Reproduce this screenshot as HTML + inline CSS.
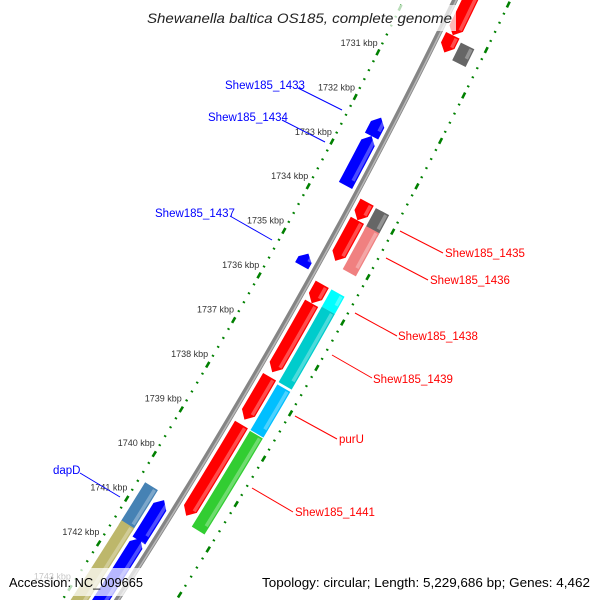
<!DOCTYPE html>
<html><head><meta charset="utf-8">
<style>
html,body{margin:0;padding:0;background:#fff;width:600px;height:600px;overflow:hidden;}
svg{display:block;overflow:hidden;}
text{font-family:"Liberation Sans","DejaVu Sans",sans-serif;}
</style></head>
<body>
<svg id="map" width="600" height="600" viewBox="0 0 600 600" xmlns="http://www.w3.org/2000/svg">
<g id="rings"></g>
<g id="backbone"></g>
<g id="features"></g>
<g id="ticklabels"></g>
<g font-size="11.5">
  <line x1="298" y1="88" x2="342" y2="110" stroke="#0000ff" stroke-width="1"/>
  <text x="225" y="89" fill="#0000ff">Shew185_1433</text>
  <line x1="282" y1="120" x2="325" y2="142" stroke="#0000ff" stroke-width="1"/>
  <text x="208" y="121" fill="#0000ff">Shew185_1434</text>
  <line x1="230" y1="216" x2="272" y2="240" stroke="#0000ff" stroke-width="1"/>
  <text x="155" y="217" fill="#0000ff">Shew185_1437</text>
  <line x1="80" y1="473" x2="120" y2="497" stroke="#0000ff" stroke-width="1"/>
  <text x="53" y="474" fill="#0000ff">dapD</text>
  <line x1="400" y1="231" x2="443" y2="253" stroke="#ff0000" stroke-width="1"/>
  <text x="445" y="257" fill="#ff0000">Shew185_1435</text>
  <line x1="386" y1="258" x2="428" y2="280" stroke="#ff0000" stroke-width="1"/>
  <text x="430" y="284" fill="#ff0000">Shew185_1436</text>
  <line x1="355" y1="313" x2="397" y2="336" stroke="#ff0000" stroke-width="1"/>
  <text x="398" y="340" fill="#ff0000">Shew185_1438</text>
  <line x1="332" y1="355" x2="372" y2="378" stroke="#ff0000" stroke-width="1"/>
  <text x="373" y="383" fill="#ff0000">Shew185_1439</text>
  <line x1="295" y1="416" x2="337" y2="439" stroke="#ff0000" stroke-width="1"/>
  <text x="339" y="443" fill="#ff0000">purU</text>
  <line x1="252" y1="488" x2="293" y2="512" stroke="#ff0000" stroke-width="1"/>
  <text x="295" y="516" fill="#ff0000">Shew185_1441</text>
</g>
<rect x="140" y="5" width="316" height="26" fill="#ffffff" fill-opacity="0.72"/>
<text x="147" y="23" font-size="14" font-style="italic" fill="#222" textLength="305" lengthAdjust="spacingAndGlyphs">Shewanella baltica OS185, complete genome</text>
<rect x="3" y="568" width="148" height="28" fill="#ffffff" fill-opacity="0.72"/>
<text x="9" y="587" font-size="13" fill="#000" textLength="134" lengthAdjust="spacingAndGlyphs">Accession: NC_009665</text>
<rect x="255" y="568" width="342" height="28" fill="#ffffff" fill-opacity="0.72"/>
<text x="262" y="587" font-size="13" fill="#000" textLength="328" lengthAdjust="spacingAndGlyphs">Topology: circular; Length: 5,229,686 bp; Genes: 4,462</text>
</svg>
<script>
// ---- data ----
const tickLabels = ["1731 kbp","1732 kbp","1733 kbp","1734 kbp","1735 kbp","1736 kbp","1737 kbp","1738 kbp","1739 kbp","1740 kbp","1741 kbp","1742 kbp","1743 kbp"];
const tickValues = [1731,1732,1733,1734,1735,1736,1737,1738,1739,1740,1741,1742,1743];
const featStarts = [1728.9,1730.03,1733.73,1734.13,1735.55,1735.97,1737.6,1738.66, 1730.09,1733.75,1734.15,1735.55,1735.93,1737.65,1738.68, 1732.13,1732.54,1735.16,1740.65,1741.5, 1740.55,1741.4];
const featEnds   = [1730.03,1730.41,1734.13,1735.03,1735.97,1737.5,1738.55,1740.68, 1730.48,1734.24,1735.1,1735.93,1737.6,1738.66,1740.8, 1732.54,1733.64,1735.43,1741.55,1744.2, 1741.5,1744.2];
const featLanes  = [1,1,1,1,1,1,1,1, 2,2,2,2,2,2,2, -1,-1,-1,-1,-1, -2,-2];
const featColors = ["#ff0000","#ff0000","#ff0000","#ff0000","#ff0000","#ff0000","#ff0000","#ff0000","#666666","#666666","#f08080","#00ffff","#00cccc","#00bfff","#32cd32","#0000ff","#0000ff","#0000ff","#0000ff","#0000ff","#4682b4","#bdb76b"];

// ---- geometry ----
const NS="http://www.w3.org/2000/svg";
const x0=y=>455-0.4833*y-0.0001333*y*y;
const dx0=y=>-0.4833-0.0002666*y;
function P(k,r){const yb=163+(k-1733)*45;const s=dx0(yb);const L=Math.hypot(1,s);return [x0(yb)+r/L, yb-s*r/L];}
function T(k){const yb=163+(k-1733)*45;const s=dx0(yb);const L=Math.hypot(1,s);return [s/L,1/L];}
function mk(tag,attrs,parent){const e=document.createElementNS(NS,tag);for(const a in attrs)e.setAttribute(a,attrs[a]);parent.appendChild(e);return e;}
function arcPath(k1,k2,r){let d="";const n=Math.max(2,Math.ceil((k2-k1)*6));for(let i=0;i<=n;i++){const p=P(k1+(k2-k1)*i/n,r);d+=(i?"L":"M")+p[0].toFixed(2)+","+p[1].toFixed(2);}return d;}

// rings
const rings=document.getElementById('rings');
[-46,50].forEach((r,ri)=>{
  for(let i=0;i<=90;i++){
    const k=1727+i*0.2;
    const major=Math.abs(k-Math.round(k))<1e-6;
    const p=P(k,r),t=T(k);
    const len=major?3.2:0.9;
    const el=mk('line',{x1:p[0]-t[0]*len,y1:p[1]-t[1]*len,x2:p[0]+t[0]*len,y2:p[1]+t[1]*len,stroke:'#008000','stroke-width':major?2.6:2.4},rings);
    
    
  }
});

// backbone
const bb=document.getElementById('backbone');
const b1=mk('path',{d:arcPath(1726,1746,0),stroke:'#858585','stroke-width':5.5,fill:'none'},bb);


const b2=mk('path',{d:arcPath(1726,1746,1.2),stroke:'#b8b8b8','stroke-width':1.5,fill:'none'},bb);



// features
const fg=document.getElementById('features');
const laneR={1:[6,21],2:[24,39],"-1":[-21,-6],"-2":[-39,-24]};
for(let i=0;i<featStarts.length;i++){
  const k1=featStarts[i],k2=featEnds[i],lane=featLanes[i];
  const [ri,ro]=laneR[lane];const rm=(ri+ro)/2;
  const h=Math.min(0.15,(k2-k1)*0.5);
  let pts=[];
  const n=Math.max(2,Math.ceil((k2-k1)*6));
  if(lane===1){
    for(let j=0;j<=n;j++)pts.push(P(k1+(k2-h-k1)*j/n,ro));
    pts.push(P(k2,rm));
    for(let j=n;j>=0;j--)pts.push(P(k1+(k2-h-k1)*j/n,ri));
  }else if(lane===-1){
    pts.push(P(k1,rm));
    for(let j=0;j<=n;j++)pts.push(P(k1+h+(k2-k1-h)*j/n,ro));
    for(let j=n;j>=0;j--)pts.push(P(k1+h+(k2-k1-h)*j/n,ri));
  }else{
    for(let j=0;j<=n;j++)pts.push(P(k1+(k2-k1)*j/n,ro));
    for(let j=n;j>=0;j--)pts.push(P(k1+(k2-k1)*j/n,ri));
  }
  const poly=mk('polygon',{points:pts.map(p=>p[0].toFixed(2)+","+p[1].toFixed(2)).join(" "),fill:featColors[i]},fg);
  
  
  const hl=mk('path',{d:arcPath(k1+0.03,k2-h,ro-3),stroke:'#ffffff','stroke-opacity':0.3,'stroke-width':3.5,fill:'none'},fg);
  
  
}

// tick labels
const tl=document.getElementById('ticklabels');
for(let i=0;i<tickValues.length;i++){
  const p=P(tickValues[i],-67);
  const t=mk('text',{x:p[0].toFixed(1),y:(p[1]+3).toFixed(1),'font-size':9,fill:'#333','text-anchor':'middle'},tl);
  t.textContent=tickLabels[i];
  
  
}
</script>
</body></html>
